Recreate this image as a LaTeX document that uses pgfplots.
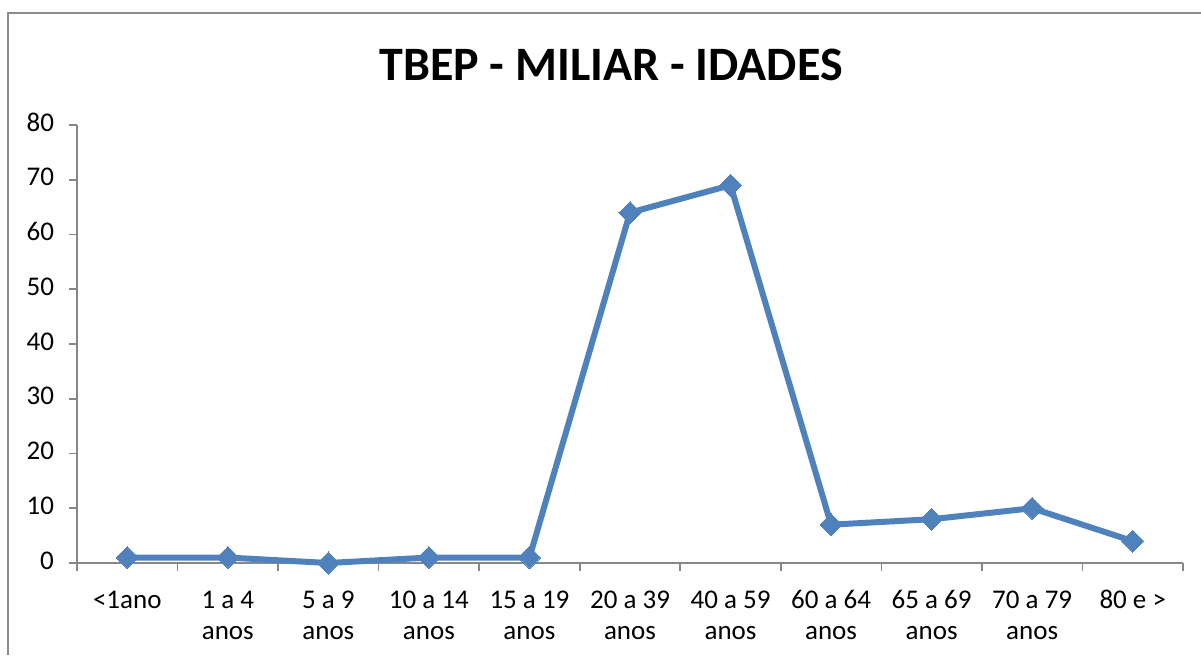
\documentclass[border=0pt]{standalone}
\usepackage{pgfplots}
\pgfplotsset{compat=1.18}
\usepackage{fontspec}
\setmainfont{Carlito}
\definecolor{exblue}{HTML}{4F81BD}
\definecolor{framegray}{HTML}{8C8C8C}
\definecolor{axgray}{HTML}{878787}
\begin{document}
\begin{tikzpicture}
\useasboundingbox (0,0) rectangle (600.5pt,327.5pt);
\draw[framegray, line width=1pt] (4pt,0pt) -- (4pt,321pt) -- (600.5pt,321pt);
\node[font=\fontsize{24}{28}\selectfont\bfseries] at (305.5pt,295pt) {TBEP - MILIAR - IDADES};
\begin{axis}[
  at={(38.5pt,46pt)}, anchor=south west,
  width=553pt, height=219pt, scale only axis,
  xmin=-0.5, xmax=10.5, ymin=0, ymax=80,
  axis lines=left, axis line style={axgray, line width=0.8pt, -},
  ytick={0,10,...,80},
  xtick={0,...,10},
  xticklabels={{<1ano},{1 a 4\\anos},{5 a 9\\anos},{10 a 14\\anos},{15 a 19\\anos},{20 a 39\\anos},{40 a 59\\anos},{60 a 64\\anos},{65 a 69\\anos},{70 a 79\\anos},{80 e >}},
  typeset ticklabels with strut,
  major x tick style={draw=none},
  minor xtick={-0.5,0.5,...,10.5},
  minor tick length=4pt,
  major tick length=4pt,
  tick align=outside,
  tick style={axgray, line width=0.8pt},
  xticklabel style={font=\fontsize{13.5}{15.5}\selectfont, align=center, yshift=-4.3pt},
  yticklabel style={font=\fontsize{13.5}{15.5}\selectfont, xshift=-4pt},
  /pgf/number format/assume math mode=true,
  clip=false,
]
\addplot[exblue, line width=3pt, mark=square*, mark size=3.9pt, mark options={rotate=45, solid, fill=exblue, draw=exblue, line width=0pt}]
coordinates {(0,1) (1,1) (2,0) (3,1) (4,1) (5,64) (6,69) (7,7) (8,8) (9,10) (10,4)};
\end{axis}
\end{tikzpicture}
\end{document}
